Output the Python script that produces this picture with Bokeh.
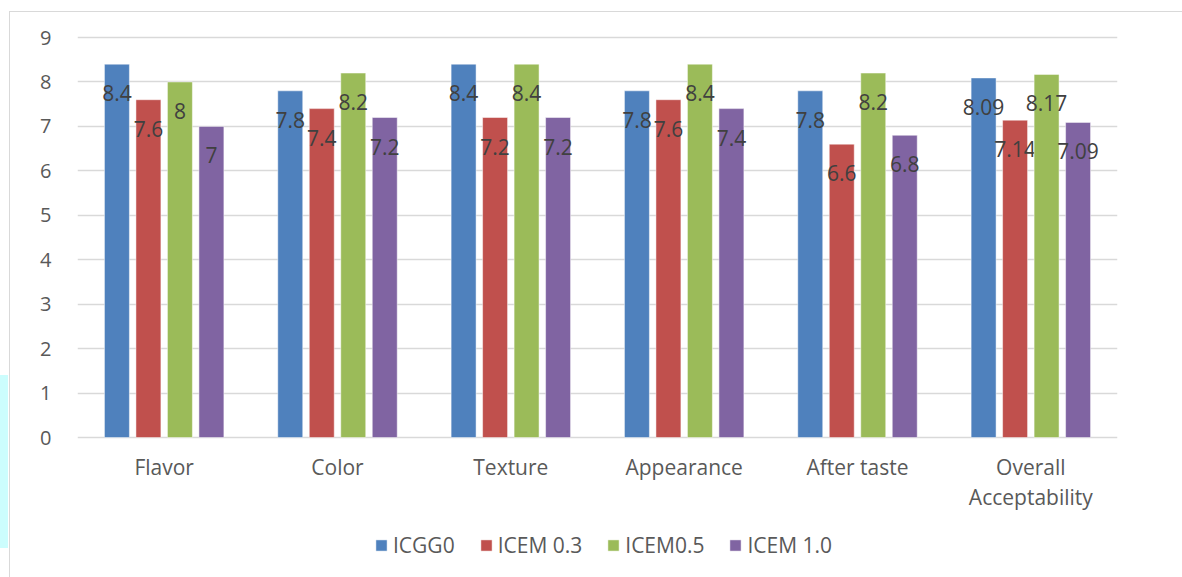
from bokeh.plotting import figure
from bokeh.models import (Range1d, FixedTicker, Legend, LegendItem,
                          ColumnDataSource, LinearAxis)
from bokeh.core.properties import value
from bokeh.embed import file_html
from bokeh.resources import INLINE

categories = ["Flavor", "Color", "Texture", "Appearance", "After taste", "Overall\nAcceptability"]
series_names = ["ICGG0", "ICEM 0.3", "ICEM0.5", "ICEM 1.0"]
icgg0 = [8.4, 7.8, 8.4, 7.8, 7.8, 8.09]
icem_03 = [7.6, 7.4, 7.2, 7.6, 6.6, 7.14]
icem_05 = [8.0, 8.2, 8.4, 8.4, 8.2, 8.17]
icem_10 = [7.0, 7.2, 7.2, 7.4, 6.8, 7.09]
label_texts = [
    ["8.4", "7.8", "8.4", "7.8", "7.8", "8.09"],
    ["7.6", "7.4", "7.2", "7.6", "6.6", "7.14"],
    ["8", "8.2", "8.4", "8.4", "8.2", "8.17"],
    ["7", "7.2", "7.2", "7.4", "6.8", "7.09"],
]
y_ticks = [0, 1, 2, 3, 4, 5, 6, 7, 8, 9]

colors = ["#4f81bd", "#c0504d", "#9bbb59", "#8064a2"]
FONT = "Open Sans"

# The frame runs to the bottom of the canvas so the category names and the
# legend sit inside it, below the zero line.
p = figure(width=1182, height=577, output_backend="svg", toolbar_location=None,
           x_range=Range1d(0, len(categories)), y_range=Range1d(-3.15, 9.045),
           min_border_left=77, min_border_right=65, min_border_top=35, min_border_bottom=0,
           x_axis_location=None, y_axis_location=None)
p.outline_line_color = None
p.background_fill_color = "white"
p.border_fill_color = None
# chart frame lines and the page's left edge strip, painted behind the canvas
p.styles = {
    "background-color": "white",
    "background-image": ("linear-gradient(#d9d9d9, #d9d9d9), "
                         "linear-gradient(#d9d9d9, #d9d9d9), "
                         "linear-gradient(#ccfdfd, #ccfdfd)"),
    "background-size": "1px 100%, 100% 1px, 8px 173px",
    "background-position": "9px 11px, 9px 11px, 0px 375px",
    "background-repeat": "no-repeat",
}

# y axis: labels only
yaxis = LinearAxis(ticker=FixedTicker(ticks=y_ticks))
yaxis.axis_line_color = None
yaxis.major_tick_line_color = None
yaxis.minor_tick_line_color = None
yaxis.major_label_text_font = FONT
yaxis.major_label_text_font_size = "20px"
yaxis.major_label_text_color = "#595959"
yaxis.major_label_standoff = 20
p.add_layout(yaxis, "left")

p.xgrid.visible = False
p.ygrid.ticker = FixedTicker(ticks=y_ticks)
p.ygrid.grid_line_color = "#d9d9d9"
p.ygrid.grid_line_width = 1.6

centers = [i + 0.5 for i in range(len(categories))]

# category names under each group
cat_src = ColumnDataSource(dict(x=centers, y=[0] * len(categories), name=categories))
p.text(x="x", y="y", text="name", source=cat_src, text_align="center",
       text_baseline="top", y_offset=15, text_font=value(FONT),
       text_font_size="21px", text_color="#595959", text_line_height=1.1)

step = 0.1817
bar_w = 0.144
offsets = [-1.5 * step, -0.5 * step, 0.5 * step, 1.5 * step]
all_series = [icgg0, icem_03, icem_05, icem_10]

items = []
for k, (vals, col, off) in enumerate(zip(all_series, colors, offsets)):
    xs = [c + off for c in centers]
    src = ColumnDataSource(dict(x=xs, top=vals, lab=label_texts[k]))
    r = p.vbar(x="x", top="top", bottom=0, width=bar_w, source=src,
               fill_color=col, line_color="white", line_width=0.8, line_alpha=0.6)
    items.append(LegendItem(label=series_names[k], renderers=[r]))
    p.text(x="x", y="top", text="lab", source=src, text_align="center",
           text_baseline="middle", y_offset=29, text_font=value(FONT),
           text_font_size="21px", text_color="#404040")

legend = Legend(items=items, orientation="horizontal", location=(297, 18))
legend.glyph_width = 14
legend.glyph_height = 14
legend.label_standoff = 5
legend.spacing = 24
legend.padding = 0
legend.margin = 0
legend.label_height = 20
legend.label_text_font = FONT
legend.label_text_font_size = "21px"
legend.label_text_color = "#595959"
legend.border_line_color = None
legend.background_fill_alpha = 0
p.add_layout(legend, "center")

open("out.html", "w").write(file_html(p, INLINE))
